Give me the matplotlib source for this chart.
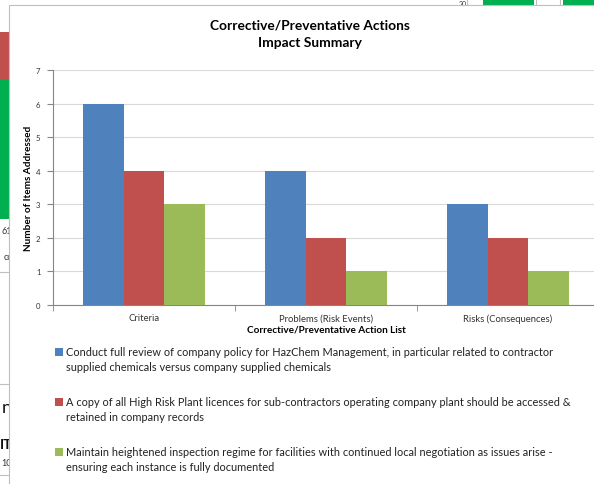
import numpy as np
import matplotlib.pyplot as plt
import matplotlib as mpl
from matplotlib.patches import Rectangle

mpl.rcParams['font.family'] = ['Lato', 'DejaVu Sans']

# data
categories = ['Criteria', 'Problems (Risk Events)', 'Risks (Consequences)']
actions = ['Conduct full review of company policy for HazChem Management, in particular related to contractor\nsupplied chemicals versus company supplied chemicals',
           'A copy of all High Risk Plant licences for sub-contractors operating company plant should be accessed &\nretained in company records',
           'Maintain heightened inspection regime for facilities with continued local negotiation as issues arise -\nensuring each instance is fully documented']
review_vals = [6, 4, 3]
licence_vals = [4, 2, 2]
inspect_vals = [3, 1, 1]
colors = ['#4F81BD', '#C0504D', '#9BBB59']

W, H = 594, 485
fig = plt.figure(figsize=(W/100, H/100), dpi=100)

def fx(px):
    return px / W

def fy(py):
    return 1 - py / H

# spreadsheet bits showing behind the chart
bg = [(0, 33, 9, 47, '#C0504D'), (0, 80, 9, 140, '#00B050'),
      (483, 0, 51, 6, '#00B050'), (563, 0, 31, 6, '#00B050')]
for x0, y0, w, h, c in bg:
    fig.patches.append(Rectangle((fx(x0), fy(y0 + h)), fx(w), h / H, transform=fig.transFigure,
                                 facecolor=c, edgecolor='none', zorder=-3))
for yy in [273, 385, 476]:
    fig.add_artist(plt.Line2D([0, fx(9)], [fy(yy), fy(yy)], color='#BFBFBF', lw=0.8, zorder=-3))
for xx in [467, 536, 560]:
    fig.add_artist(plt.Line2D([fx(xx), fx(xx)], [1, fy(6)], color='#BFBFBF', lw=0.8, zorder=-3))
fig.text(fx(12), fy(232), '61', fontsize=6.5, ha='right', va='center', color='#333333', zorder=-2)
fig.text(fx(12), fy(258), 'cc', fontsize=6.5, ha='right', va='center', color='#333333', zorder=-2)
fig.text(fx(12), fy(408), 'n', fontsize=13, ha='right', va='center', color='#111111', zorder=-2)
fig.text(fx(12), fy(445), 'IT', fontsize=10, fontweight='bold', ha='right', va='center', color='#111111', zorder=-2)
fig.text(fx(12), fy(463), '10', fontsize=6.5, ha='right', va='center', color='#333333', zorder=-2)
fig.text(fx(459), fy(1), '20', fontsize=5, ha='left', va='top', color='#333333', zorder=-2)

# chart panel
fig.patches.append(Rectangle((fx(9), -0.1), 1.1, fy(6) + 0.1, transform=fig.transFigure,
                             facecolor='white', edgecolor='#BFBFBF', lw=0.8, zorder=-1))

ax = fig.add_axes([fx(53), fy(306), fx(546), (306 - 71) / H])
ax.set_facecolor('none')

x = np.arange(len(categories))
bw = 1 / 4.5
series = [review_vals, licence_vals, inspect_vals]
for i, vals in enumerate(series):
    ax.bar(x + (i - 1) * bw, vals, bw, color=colors[i], zorder=3)

ax.set_xlim(-0.5, 2.5)
ax.set_ylim(0, 7)
ax.set_yticks(range(0, 8))
ax.yaxis.grid(True, color='#D9D9D9', lw=0.8, zorder=0)
for s in ['top', 'right']:
    ax.spines[s].set_visible(False)
for s in ['left', 'bottom']:
    ax.spines[s].set_color('#868686')
    ax.spines[s].set_linewidth(0.8)
ax.set_xticks(x)
ax.set_xticklabels(categories)
ax.set_xticks([-0.5, 0.5, 1.5, 2.5], minor=True)
ax.tick_params(axis='x', which='major', length=0, labelsize=6.8, pad=6, labelcolor='#333333')
ax.tick_params(axis='x', which='minor', length=4, color='#868686')
ax.tick_params(axis='y', length=4, color='#868686', labelsize=5.6, pad=5, labelcolor='#333333')
ax.set_xlabel('Corrective/Preventative Action List', fontsize=7.2, fontweight='bold', labelpad=1)
ax.set_ylabel('Number of Items Addressed', fontsize=7.2, fontweight='bold', labelpad=2)

fig.text(fx(310), fy(26), 'Corrective/Preventative Actions', fontsize=9.9, fontweight='bold', ha='center', va='center')
fig.text(fx(310), fy(43), 'Impact Summary', fontsize=9.9, fontweight='bold', ha='center', va='center')

# legend
leg_y = [353, 403, 453]
for i, lab in enumerate(actions):
    fig.patches.append(Rectangle((fx(55), fy(leg_y[i] + 4)), fx(8), 8 / H, transform=fig.transFigure,
                                 facecolor=colors[i], edgecolor='none'))
    fig.text(fx(66), fy(leg_y[i] - 6), lab, fontsize=7.9, ha='left', va='top', color='#222222',
             linespacing=1.45)

plt.savefig('out.png', dpi=100)
